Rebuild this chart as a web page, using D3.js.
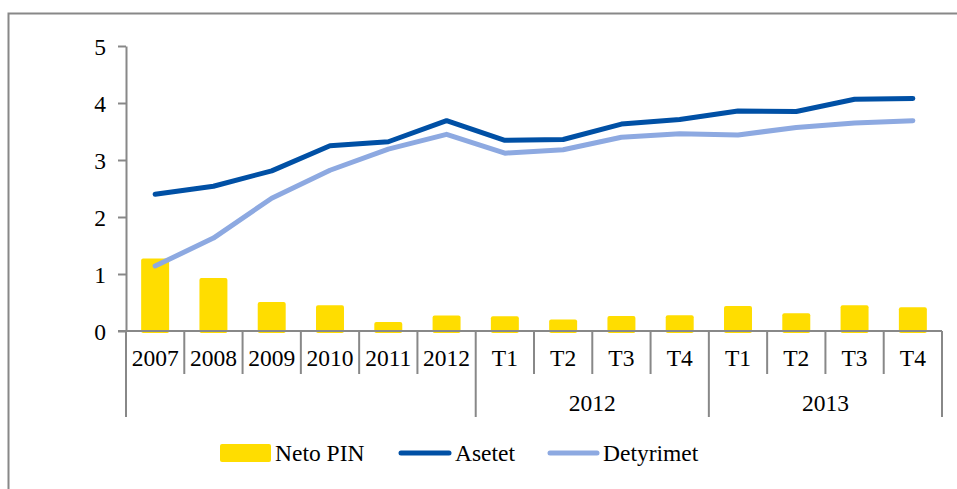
<!DOCTYPE html>
<html>
<head>
  <meta charset="utf-8">
  <title></title>
  <script src="https://cdn.jsdelivr.net/npm/d3@7"></script>
  <style type="text/css">
    body { margin: 0; background: white; }
    text { font-family: "Liberation Serif", "Times New Roman", serif; fill: #000; }
    .axis path, .axis line { stroke: #888; stroke-width: 2px; }
  </style>
</head>
<body>
  <div class="chart"></div>

  <script type="text/javascript">
    var categories = ['2007', '2008', '2009', '2010', '2011', '2012', 'T1', 'T2', 'T3', 'T4', 'T1', 'T2', 'T3', 'T4'];
    var groups = [
      { label: '', from: 0, to: 6 },
      { label: '2012', from: 6, to: 10 },
      { label: '2013', from: 10, to: 14 }
    ];
    var netoPin = [1.27, 0.93, 0.51, 0.45, 0.16, 0.27, 0.26, 0.2, 0.265, 0.275, 0.44, 0.31, 0.45, 0.415];
    var asetet = [2.40, 2.54, 2.81, 3.25, 3.32, 3.69, 3.345, 3.36, 3.63, 3.71, 3.86, 3.85, 4.065, 4.08];
    var detyrimet = [1.14, 1.63, 2.33, 2.82, 3.19, 3.45, 3.12, 3.18, 3.40, 3.46, 3.44, 3.57, 3.65, 3.69];
    var yTicks = [0, 1, 2, 3, 4, 5];

    var width = 957, height = 489;
    var plotLeft = 126, plotRight = 942, plotTop = 46, plotBottom = 331;
    var fontSize = '23.5px';
    var serif = '"Liberation Serif", "Times New Roman", serif';

    var svg = d3.select('.chart').append('svg')
      .attr('width', width).attr('height', height);

    // outer frame (cropped on right and bottom)
    svg.append('rect')
      .attr('x', 8.5).attr('y', 13.5)
      .attr('width', 1000).attr('height', 600)
      .attr('fill', 'none').attr('stroke', '#888').attr('stroke-width', 2);

    var x = d3.scaleBand().domain(d3.range(categories.length))
      .range([plotLeft, plotRight]).paddingInner(0).paddingOuter(0);
    var y = d3.scaleLinear().domain([0, 5]).range([plotBottom, plotTop]);

    // y axis
    var yAxis = svg.append('g').attr('class', 'axis')
      .attr('transform', 'translate(' + plotLeft + ',0)')
      .call(d3.axisLeft(y).tickValues(yTicks).tickFormat(d3.format('d'))
        .tickSize(8).tickSizeOuter(0).tickPadding(12));
    yAxis.attr('font-family', serif).attr('font-size', fontSize);
    yAxis.selectAll('text').attr('dy', '0.34em');

    // bars
    var bw = x.bandwidth() * 0.48;
    svg.append('g').selectAll('rect')
      .data(netoPin).enter().append('rect')
        .attr('x', function (d, i) { return x(i) + (x.bandwidth() - bw) / 2; })
        .attr('y', function (d) { return y(d); })
        .attr('width', bw)
        .attr('height', function (d) { return y(0) - y(d) + 2; })
        .attr('rx', 2)
        .attr('fill', '#FFDD00');

    // x axis baseline
    var xg = svg.append('g').attr('class', 'axis');
    xg.append('line')
      .attr('x1', plotLeft - 8).attr('x2', plotRight)
      .attr('y1', plotBottom).attr('y2', plotBottom);

    // category dividers
    var boundaries = d3.range(categories.length + 1);
    var groupEdges = [];
    groups.forEach(function (g) { groupEdges.push(g.from); groupEdges.push(g.to); });
    function edgeX(i) { return i < categories.length ? x(i) : plotRight; }
    xg.selectAll('.div').data(boundaries).enter().append('line')
      .attr('x1', edgeX).attr('x2', edgeX)
      .attr('y1', plotBottom)
      .attr('y2', function (d) { return groupEdges.indexOf(d) >= 0 ? 417 : 374; });

    // category labels
    svg.append('g').selectAll('text')
      .data(categories).enter().append('text')
        .attr('x', function (d, i) { return x(i) + x.bandwidth() / 2; })
        .attr('y', 358)
        .attr('dy', '0.34em')
        .attr('text-anchor', 'middle')
        .style('font-size', fontSize)
        .text(function (d) { return d; });

    // group labels
    svg.append('g').selectAll('text')
      .data(groups).enter().append('text')
        .attr('x', function (d) { return (edgeX(d.from) + edgeX(d.to)) / 2; })
        .attr('y', 403)
        .attr('dy', '0.34em')
        .attr('text-anchor', 'middle')
        .style('font-size', fontSize)
        .text(function (d) { return d.label; });

    // lines
    var line = d3.line()
      .x(function (d, i) { return x(i) + x.bandwidth() / 2; })
      .y(function (d) { return y(d); });

    svg.append('path').datum(detyrimet)
      .attr('d', line).attr('fill', 'none')
      .attr('stroke', '#8DA9E1').attr('stroke-width', 5)
      .attr('stroke-linecap', 'round').attr('stroke-linejoin', 'round');

    svg.append('path').datum(asetet)
      .attr('d', line).attr('fill', 'none')
      .attr('stroke', '#0050A5').attr('stroke-width', 5)
      .attr('stroke-linecap', 'round').attr('stroke-linejoin', 'round');

    // legend
    var legend = svg.append('g');
    legend.append('rect')
      .attr('x', 220).attr('y', 444).attr('width', 51).attr('height', 18)
      .attr('rx', 2).attr('fill', '#FFDD00');
    legend.append('text').attr('x', 275).attr('y', 453).attr('dy', '0.34em')
      .style('font-size', fontSize).text('Neto PIN');

    legend.append('line')
      .attr('x1', 401).attr('x2', 449).attr('y1', 453).attr('y2', 453)
      .attr('stroke', '#0050A5').attr('stroke-width', 5).attr('stroke-linecap', 'round');
    legend.append('text').attr('x', 455).attr('y', 453).attr('dy', '0.34em')
      .style('font-size', fontSize).text('Asetet');

    legend.append('line')
      .attr('x1', 550).attr('x2', 597).attr('y1', 453).attr('y2', 453)
      .attr('stroke', '#8DA9E1').attr('stroke-width', 5).attr('stroke-linecap', 'round');
    legend.append('text').attr('x', 603).attr('y', 453).attr('dy', '0.34em')
      .style('font-size', fontSize).text('Detyrimet');
  </script>
</body>
</html>
